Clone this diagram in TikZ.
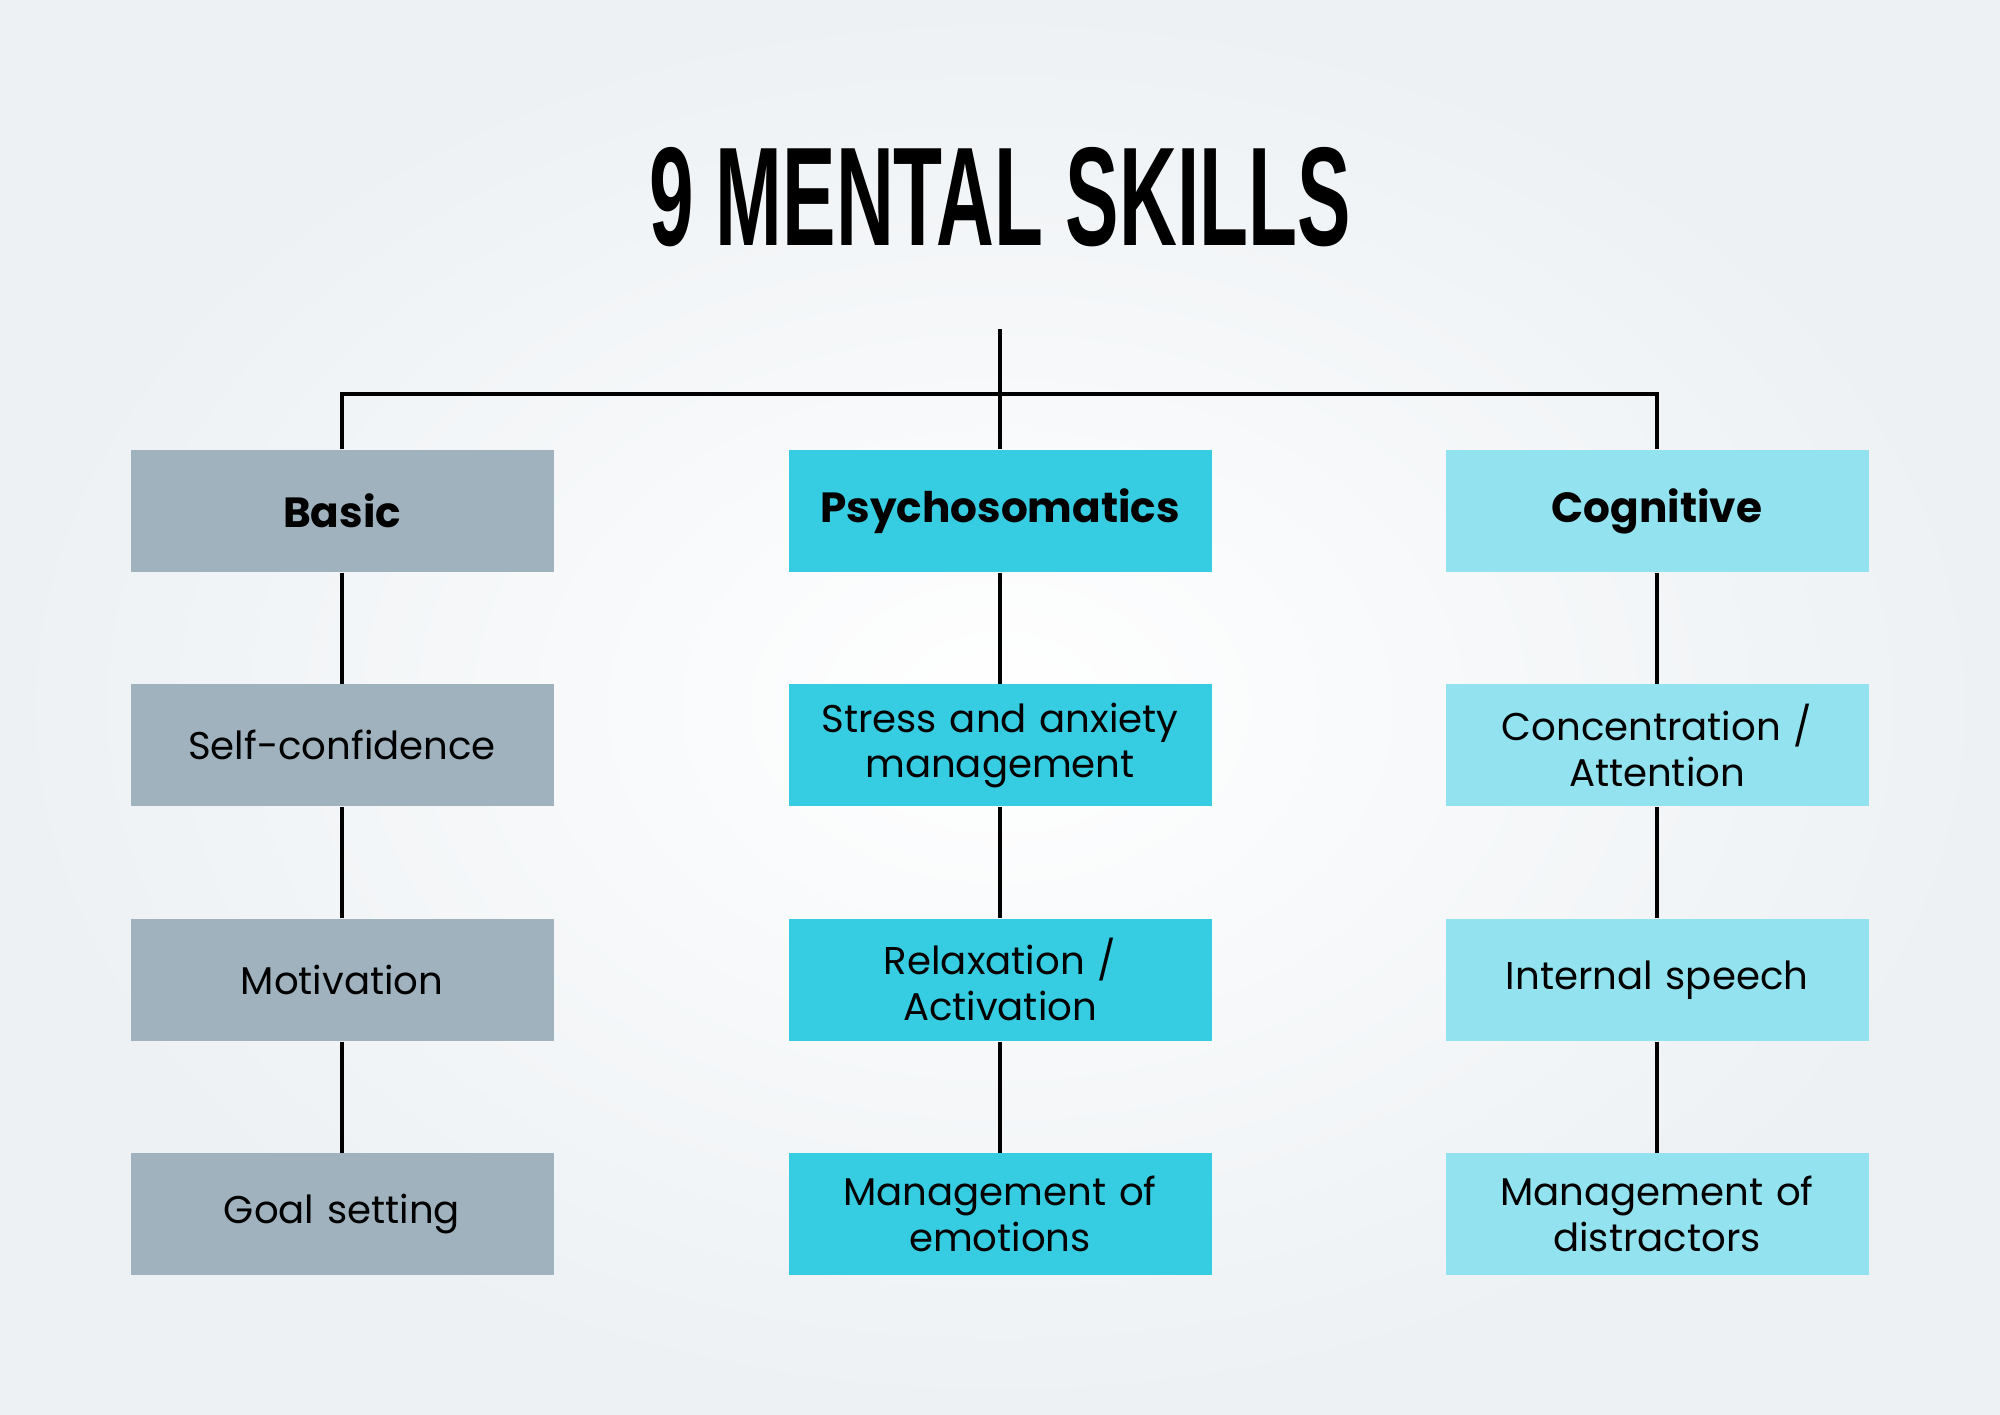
\documentclass[tikz,border=0pt]{standalone}
\usepackage{fontspec}
\setmainfont{Poppins}
\newfontfamily\titlefont[FakeStretch=0.57]{Liberation Sans}
\usetikzlibrary{positioning}
\definecolor{basicgrey}{HTML}{A0B2BE}
\definecolor{psycyan}{HTML}{36CDE3}
\definecolor{coglight}{HTML}{93E2EF}
\definecolor{bgedge}{HTML}{EDF1F4}
\tikzset{
  skill/.style = {rectangle, minimum width = 4.23cm, minimum height = 1.22cm,
    text width = 4.2cm, align = center, inner sep = 0pt, font = \fontsize{11}{13}\selectfont},
  head/.style = {skill, font = \fontsize{12}{14}\selectfont\bfseries},
  link/.style = {line width = 1.2pt, black}
}
\begin{document}
\begin{tikzpicture}
  \shade [inner color = white, outer color = bgedge] (0,0) rectangle (20,14.14);
  \useasboundingbox (0,0) rectangle (20,14.14);

  \node (title) at (10,12.17) {\titlefont\bfseries\fontsize{40}{40}\selectfont 9 MENTAL SKILLS};
  \coordinate (top) at (10,10.85);

  % headers
  \node [head, fill = basicgrey] (basic) at (3.42,9.03) {Basic};
  \node [head, fill = psycyan] (psy) at (10,9.03) {Psychosomatics};
  \node [head, fill = coglight] (cog) at (16.57,9.03) {Cognitive};

  % basic column
  \node [skill, fill = basicgrey, below = 1.11 of basic] (b1) {Self-confidence};
  \node [skill, fill = basicgrey, below = 1.11 of b1] (b2) {Motivation};
  \node [skill, fill = basicgrey, below = 1.11 of b2] (b3) {Goal setting};

  % psychosomatics column
  \node [skill, fill = psycyan, below = 1.11 of psy] (p1) {Stress and anxiety\\ management};
  \node [skill, fill = psycyan, below = 1.11 of p1] (p2) {Relaxation /\\ Activation};
  \node [skill, fill = psycyan, below = 1.11 of p2] (p3) {Management of\\ emotions};

  % cognitive column
  \node [skill, fill = coglight, below = 1.11 of cog] (c1) {Concentration /\\ Attention};
  \node [skill, fill = coglight, below = 1.11 of c1] (c2) {Internal speech};
  \node [skill, fill = coglight, below = 1.11 of c2] (c3) {Management of\\ distractors};

  \draw [link] (top) -- (psy.north);
  \draw [link] (basic.north) -- ++(0,0.55) -| (cog.north);
  \foreach \a/\b in {basic/b1, b1/b2, b2/b3, psy/p1, p1/p2, p2/p3, cog/c1, c1/c2, c2/c3}
    \draw [link] (\a.south) -- (\b.north);
\end{tikzpicture}
\end{document}
